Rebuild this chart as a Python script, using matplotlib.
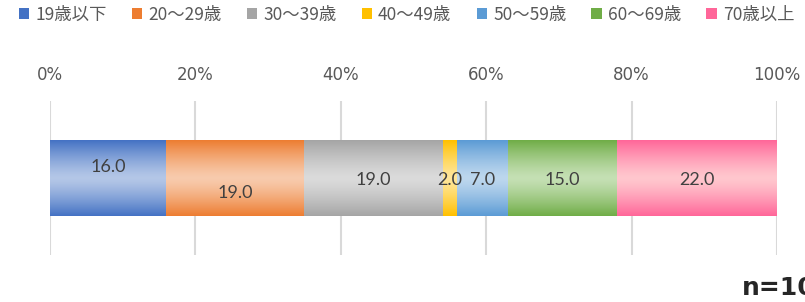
import matplotlib.pyplot as plt
import matplotlib.patches as mpatches
from matplotlib.colors import LinearSegmentedColormap
import numpy as np

plt.rcParams['font.family'] = ['Noto Sans CJK JP', 'DejaVu Sans']

labels = ['19歳以下', '20～29歳', '30～39歳', '40～49歳', '50～59歳', '60～69歳', '70歳以上']
values = [16.0, 19.0, 19.0, 2.0, 7.0, 15.0, 22.0]
edge_colors = ['#4472C4', '#ED7D31', '#A5A5A5', '#FFC000', '#5B9BD5', '#70AD47', '#FF6699']
mid_colors = ['#B4C7E7', '#F8CBAD', '#DBDBDB', '#FFE699', '#BDD7EE', '#C5E0B4', '#FFC7CE']
# vertical nudges of the data labels (as in the original)
label_dy = [0.07, -0.1, -0.015, -0.015, -0.015, -0.015, -0.015]
n_total = 100

fig = plt.figure(figsize=(8.05, 3.02), dpi=100)
ax = fig.add_axes([50 / 805, 1 - 255 / 302, 727 / 805, 154 / 302])

lefts = np.concatenate([[0], np.cumsum(values)[:-1]])
bars = ax.barh([0] * len(values), values, left=lefts, height=0.49,
               color=mid_colors, edgecolor='none', zorder=2)

# vertical gradient: dark at edges, light in the middle
t = np.linspace(0, 1, 200)
prof = 1 - np.abs(2 * t - 1) ** 1.3
for bar, ec, mc in zip(bars, edge_colors, mid_colors):
    cmap = LinearSegmentedColormap.from_list('g', [ec, mc])
    x0, y0 = bar.get_x(), bar.get_y()
    im = ax.imshow(prof[:, None], cmap=cmap, aspect='auto', vmin=0, vmax=1,
                   extent=[x0, x0 + bar.get_width(), y0, y0 + bar.get_height()],
                   zorder=3)
    im.set_clip_path(bar)

for x0, v, dy in zip(lefts, values, label_dy):
    ax.text(x0 + v / 2, dy, f'{v:.1f}', ha='center', va='center',
            fontsize=13, color='#404040', zorder=5, family=['Lato', 'DejaVu Sans'])

ax.set_xlim(0, 100)
ax.set_ylim(-0.5, 0.5)
ax.set_xticks(np.arange(0, 101, 20))
ax.set_xticklabels([f'{p}%' for p in range(0, 101, 20)],
                   family=['Liberation Sans Narrow', 'DejaVu Sans'])
ax.xaxis.tick_top()
ax.tick_params(axis='x', length=0, pad=12, labelsize=12, labelcolor='#595959')
ax.set_yticks([])
ax.grid(axis='x', color='#D9D9D9', linewidth=1.5, zorder=0)
for s in ax.spines.values():
    s.set_visible(False)

handles = [mpatches.Patch(facecolor=ec, edgecolor='none') for ec in edge_colors]
fig.legend(handles, labels, loc='center', bbox_to_anchor=(0.505, 1 - 15 / 302), ncol=7,
           frameon=False, fontsize=12.5, handlelength=0.6, handleheight=0.6,
           handletextpad=0.35, columnspacing=1.45, labelcolor='#595959')

fig.text(742 / 805, 1 - 288 / 302, f'n={n_total}', fontsize=18, fontweight='bold',
         color='#262626', va='center', ha='left',
         family=['Liberation Sans Narrow', 'DejaVu Sans'])

fig.savefig('out.png', dpi=100)
